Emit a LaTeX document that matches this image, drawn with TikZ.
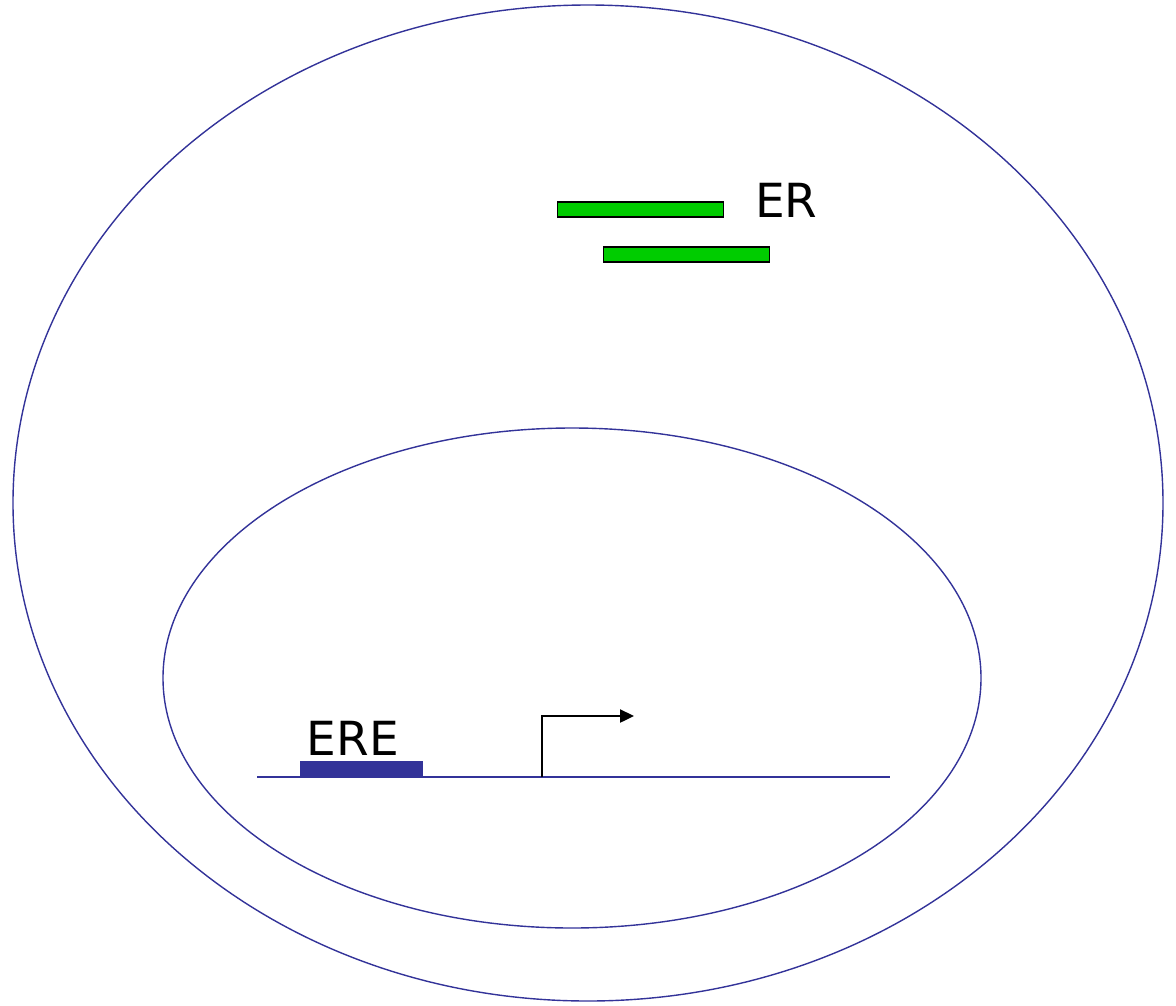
\documentclass[tikz,border=0pt]{standalone}
\usepackage{fontspec}
\setmainfont{DejaVu Sans}
\usetikzlibrary{arrows.meta}
\definecolor{navy}{HTML}{333399}
\definecolor{ergreen}{HTML}{00CC00}
\begin{document}
\begin{tikzpicture}[x=1pt,y=-1pt,
  membrane/.style={draw=navy,line width=1.4pt},
  erbar/.style={draw=black,fill=ergreen,line width=1.2pt,minimum width=166pt,minimum height=15pt,inner sep=0pt,rectangle},
  lbl/.style={font=\fontsize{47}{52}\selectfont,inner sep=0pt}]
\useasboundingbox (0,0) rectangle (1176,1005);
% cell and nucleus
\draw[membrane] (588,503) ellipse [x radius=575, y radius=498];
\draw[membrane] (572,678) ellipse [x radius=409, y radius=250];
% estrogen receptor
\node[erbar] (er1) at (640.5,209.5) {};
\node[erbar] (er2) at (686.5,254.5) {};
\node[lbl,anchor=base west] (erlbl) at (755,217) {ER};
% DNA with response element and promoter
\coordinate (dnaL) at (257,777);
\coordinate (dnaR) at (890,777);
\draw[navy,line width=1.8pt] (dnaL) -- (dnaR);
\node[fill=navy,minimum width=123pt,minimum height=16pt,inner sep=0pt] (ere) at (361.5,768.5) {};
\node[lbl,anchor=base] (erelbl) at (353,755) {ERE};
\coordinate (tss) at (542,777);
\coordinate (tssTop) at (542,716);
\coordinate (tssEnd) at (634,716);
\draw[line width=2.4pt,-{Triangle[length=14pt,width=13pt]}] (tss) -- (tssTop) -- (tssEnd);
\end{tikzpicture}
\end{document}
